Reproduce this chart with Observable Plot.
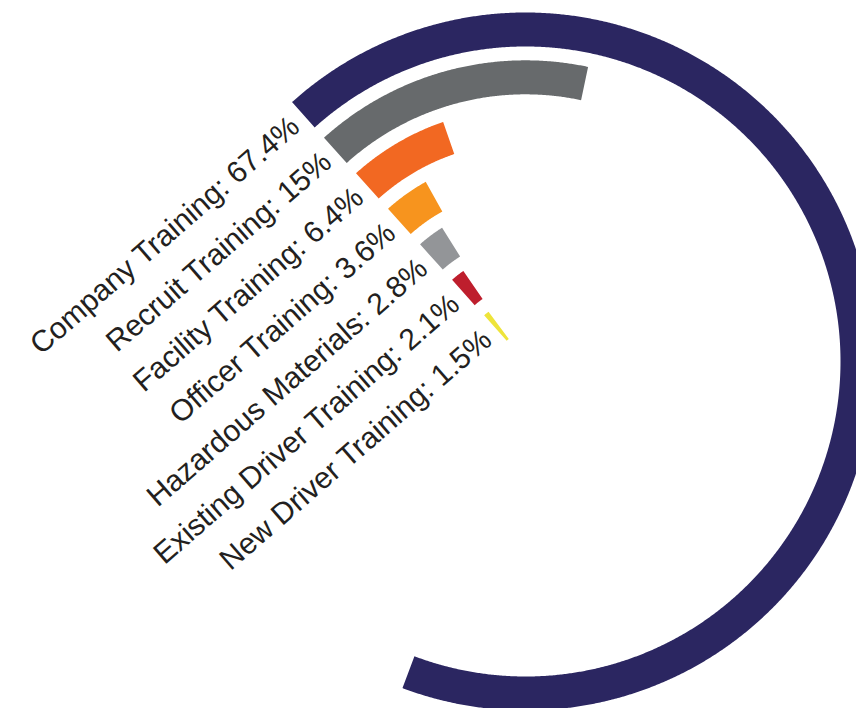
<!DOCTYPE html>
<html>
<head>
<meta charset="utf-8">
<script src="https://cdn.jsdelivr.net/npm/d3@7"></script>
<script src="https://cdn.jsdelivr.net/npm/@observablehq/plot@0.6"></script>
<style>
  html, body { margin: 0; padding: 0; background: #fff; }
  #chart svg { display: block; }
</style>
</head>
<body>
<div id="chart"></div>
<script>
// ---- data ----
const categories = [
  "Company Training",
  "Recruit Training",
  "Facility Training",
  "Officer Training",
  "Hazardous Materials",
  "Existing Driver Training",
  "New Driver Training"
];
const values = [67.4, 15, 6.4, 3.6, 2.8, 2.1, 1.5];
const colors = ["#2b2661", "#676a6c", "#f26822", "#f7941e", "#939598", "#be1e2d", "#eee43a"];

// ---- layout (code, not data) ----
const W = 856, H = 708;
const cx = 525, cy = 361;              // centre in pixels
const startDeg = -42;                  // where every arc begins (clockwise from north)
const band = 34;                       // ring thickness
const radius = d3.scalePoint().domain(categories).range([332, 45]);
const toRad = Math.PI / 180;

// sample each arc from its value (100% = full turn)
const arcs = [];
categories.forEach((c, i) => {
  const sweep = values[i] / 100 * 360;
  const n = Math.max(2, Math.ceil(sweep / 0.25));
  for (let k = 0; k <= n; k++) {
    arcs.push({category: c, value: values[i], r: radius(c), a: startDeg + sweep * k / n});
  }
});

const labels = categories.map((c, i) => {
  const r = radius(c), a = startDeg * toRad, back = 11;
  return {
    text: `${c}: ${values[i]}%`,
    x: r * Math.sin(a) - back * Math.cos(a),
    y: r * Math.cos(a) + back * Math.sin(a)
  };
});

const chart = Plot.plot({
  width: W,
  height: H,
  margin: 0,
  style: {background: "#fff", overflow: "hidden"},
  x: {domain: [-cx, W - cx], range: [0, W], axis: null},
  y: {domain: [cy - H, cy], range: [H, 0], axis: null},
  color: {domain: categories, range: colors},
  marks: [
    Plot.line(arcs, {
      x: d => d.r * Math.sin(d.a * toRad),
      y: d => d.r * Math.cos(d.a * toRad),
      z: "category",
      stroke: "category",
      strokeWidth: band,
      strokeLinecap: "butt",
      strokeLinejoin: "round",
      curve: "linear"
    }),
    Plot.text(labels, {
      x: "x",
      y: "y",
      text: "text",
      rotate: -41,
      textAnchor: "end",
      lineAnchor: "middle",
      fontSize: 30,
      fontFamily: "'Liberation Sans', Arial, Helvetica, sans-serif",
      fill: "#231f20"
    })
  ]
});
document.getElementById("chart").appendChild(chart);
</script>
</body>
</html>
